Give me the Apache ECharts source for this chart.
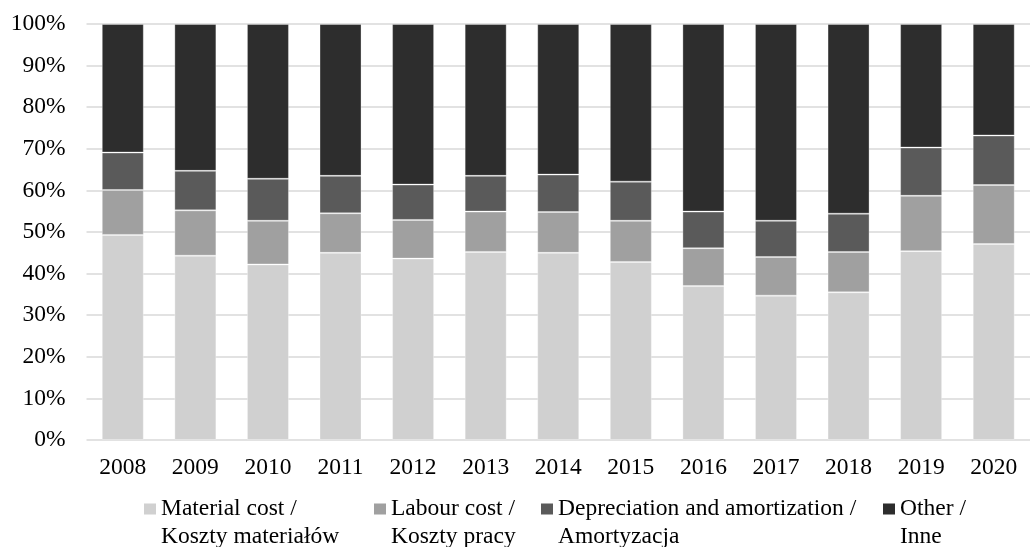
<!DOCTYPE html>
<html>
<head>
<meta charset="utf-8">
<script src="https://cdn.jsdelivr.net/npm/echarts@6/dist/echarts.min.js"></script>
<style>
html,body{margin:0;padding:0;background:#fff;}
#c{width:1030px;height:547px;}
</style>
</head>
<body>
<div id="c"></div>
<script>
const years = ['2008','2009','2010','2011','2012','2013','2014','2015','2016','2017','2018','2019','2020'];
const seriesNames = ['Material cost /\nKoszty materiałów','Labour cost /\nKoszty pracy','Depreciation and amortization /\nAmortyzacja','Other /\nInne'];
const material = [49.3,44.3,42.2,45.0,43.6,45.2,45.0,42.8,37.0,34.7,35.5,45.4,47.1];
const labour   = [10.8,10.9,10.5,9.5,9.3,9.7,9.8,9.9,9.1,9.3,9.7,13.3,14.2];
const depreciation = [9.0,9.5,10.1,9.0,8.5,8.6,9.0,9.4,8.8,8.7,9.2,11.6,11.9];
const other    = [30.9,35.3,37.2,36.5,38.6,36.5,36.2,37.9,45.1,47.3,45.6,29.7,26.8];

const colors = ['#d0d0d0','#a0a0a0','#5a5a5a','#2d2d2d'];
const values = [material, labour, depreciation, other];
const font = '"Liberation Serif","Times New Roman",serif';
const FS = 23.5;
const legendLeft = [144, 374, 541, 883];
const iconPath = 'path://M0,0h0.01v0.01h-0.01zM0,8.5h12v11h-12zM0,55.99h0.01v0.01h-0.01z';

const chart = echarts.init(document.getElementById('c'), null, {renderer:'canvas'});
chart.setOption({
  animation:false,
  backgroundColor:'#fff',
  grid:{left:86.5, right:-12, top:24, bottom:107, containLabel:false},
  xAxis:{
    type:'category', data:years,
    axisLine:{show:false}, axisTick:{show:false},
    axisLabel:{color:'#000', fontFamily:font, fontSize:FS, margin:16}
  },
  yAxis:{
    type:'value', min:0, max:100, interval:10,
    axisLine:{show:false}, axisTick:{show:false},
    axisLabel:{color:'#000', fontFamily:font, fontSize:FS, margin:21, formatter:v=>v+'%'},
    splitLine:{lineStyle:{color:'#d9d9d9', width:1.5}}
  },
  legend: seriesNames.map((n,i)=>({
    left:legendLeft[i], top:495, padding:0, itemWidth:12, itemHeight:56,
    icon:iconPath,
    itemStyle:{borderWidth:0},
    textStyle:{color:'#000', fontFamily:font, fontSize:FS, lineHeight:28},
    data:[n]
  })),
  series: seriesNames.map((n,i)=>({
    name:n, type:'bar', stack:'total', data:values[i],
    barWidth:42,
    itemStyle:{color:colors[i], borderColor:'rgba(255,255,255,0.3)', borderWidth:1}
  }))
});
</script>
</body>
</html>
